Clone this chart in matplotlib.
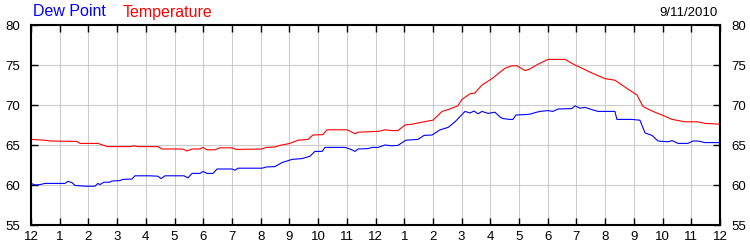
import matplotlib
matplotlib.use('Agg')
import matplotlib.pyplot as plt
import numpy as np

plt.rcParams['font.family'] = ['Liberation Sans', 'DejaVu Sans']

# hours since midnight
temp_hours = [0, 0.49, 0.66, 1.60, 1.71, 2.33, 2.58, 2.68, 3.45, 3.59, 3.73, 4.42,
              4.56, 5.29, 5.43, 5.61, 5.89, 5.99, 6.13, 6.41, 6.58, 7.00, 7.14,
              8.05, 8.19, 8.50, 8.67, 9.02, 9.30, 9.65, 9.82, 10.17, 10.31, 11.01,
              11.18, 11.29, 11.39, 12.09, 12.33, 12.57, 12.78, 13.03, 13.27, 13.55,
              13.83, 14.00, 14.32, 14.59, 14.87, 15.01, 15.29, 15.46, 15.71, 16.06,
              16.51, 16.75, 16.93, 17.21, 17.38, 17.66, 18.01, 18.60, 18.95, 19.54,
              19.99, 20.34, 20.79, 21.11, 21.32, 21.63, 21.98, 22.33, 22.78, 23.23,
              23.48, 24.0]
temperature = [65.7, 65.6, 65.5, 65.45, 65.2, 65.2, 64.9, 64.8, 64.8, 64.9, 64.8, 64.8,
               64.5, 64.5, 64.25, 64.5, 64.5, 64.7, 64.4, 64.4, 64.65, 64.65, 64.45,
               64.5, 64.7, 64.75, 64.95, 65.2, 65.6, 65.7, 66.25, 66.3, 66.9, 66.9,
               66.6, 66.4, 66.6, 66.7, 66.9, 66.8, 66.8, 67.5, 67.6, 67.8,
               68.0, 68.1, 69.2, 69.5, 69.9, 70.7, 71.4, 71.5, 72.5, 73.3,
               74.6, 74.9, 74.9, 74.3, 74.5, 75.1, 75.7, 75.7, 75.0, 74.0,
               73.3, 73.1, 72.0, 71.25, 69.8, 69.25, 68.75, 68.2, 67.9, 67.9,
               67.7, 67.6]

dew_hours = [0, 0.14, 0.31, 0.49, 1.18, 1.29, 1.43, 1.53, 1.88, 2.23, 2.33, 2.40,
             2.54, 2.75, 2.82, 3.10, 3.20, 3.52, 3.62, 4.14, 4.42, 4.53, 4.67, 5.33,
             5.47, 5.61, 5.89, 5.99, 6.13, 6.34, 6.48, 7.00, 7.11, 7.21, 8.05, 8.19,
             8.50, 8.74, 9.09, 9.44, 9.72, 9.89, 10.14, 10.24, 10.94, 11.11, 11.29,
             11.39, 11.74, 11.88, 12.09, 12.33, 12.57, 12.78, 13.06, 13.48, 13.69,
             13.97, 14.25, 14.53, 14.77, 15.12, 15.29, 15.43, 15.57, 15.71, 15.92,
             16.16, 16.34, 16.44, 16.68, 16.79, 16.89, 17.21, 17.38, 17.56, 17.73,
             18.01, 18.18, 18.36, 18.84, 18.95, 19.12, 19.30, 19.47, 19.75, 20.34,
             20.41, 20.93, 21.21, 21.39, 21.63, 21.84, 22.19, 22.33, 22.54, 22.88,
             23.06, 23.23, 23.48, 24.0]
dew_point = [60.2, 60.0, 60.05, 60.2, 60.2, 60.45, 60.3, 59.95, 59.85, 59.85, 60.2, 60.05,
             60.35, 60.35, 60.5, 60.55, 60.7, 60.75, 61.15, 61.15, 61.1, 60.8, 61.15, 61.15,
             60.9, 61.45, 61.45, 61.7, 61.45, 61.45, 62.0, 62.0, 61.85, 62.1, 62.1, 62.25,
             62.3, 62.8, 63.2, 63.3, 63.6, 64.2, 64.2, 64.7, 64.7, 64.5, 64.2,
             64.5, 64.55, 64.7, 64.7, 65.0, 64.9, 64.95, 65.6, 65.7, 66.2,
             66.25, 66.9, 67.2, 67.9, 69.2, 69.0, 69.25, 68.9, 69.2, 68.95,
             69.1, 68.5, 68.3, 68.2, 68.2, 68.75, 68.8, 68.85, 69.05, 69.2,
             69.3, 69.2, 69.5, 69.55, 69.9, 69.6, 69.7, 69.5, 69.2, 69.2,
             68.2, 68.2, 68.1, 66.5, 66.2, 65.5, 65.4, 65.55, 65.2, 65.2,
             65.5, 65.5, 65.3, 65.3]

hour_labels = ['12', '1', '2', '3', '4', '5', '6', '7', '8', '9', '10', '11'] * 2 + ['12']
y_ticks = [55, 60, 65, 70, 75, 80]

fig = plt.figure(figsize=(7.5, 2.5), dpi=100)
ax = fig.add_axes([31 / 750, 25 / 250, 689 / 750, 200 / 250])

ax.plot(dew_hours, dew_point, color='#0000ff', linewidth=0.8)
ax.plot(temp_hours, temperature, color='#ff0000', linewidth=0.8)

ax.set_xlim(0, 24)
ax.set_ylim(55, 80)
ax.set_xticks(range(25))
ax.set_xticklabels(hour_labels)
ax.set_yticks(y_ticks)
ax.grid(True, color='#cccccc', linewidth=0.8)
ax.set_axisbelow(True)
ax.tick_params(axis='both', direction='in', length=5, width=1, color='black',
               labelsize=9.5, top=True, right=True, labelright=True)
ax.tick_params(axis='y', pad=8)
ax.tick_params(axis='x', pad=4)
for s in ax.spines.values():
    s.set_linewidth(1.5)

fig.text(33 / 750, 1 - 12 / 250, 'Dew Point', color='#0000ff', fontsize=11.5, va='center')
fig.text(123 / 750, 1 - 12 / 250, 'Temperature', color='#ff0000', fontsize=11.5, va='center')
fig.text(718 / 750, 1 - 13 / 250, '9/11/2010', color='black', fontsize=9.5, va='center', ha='right')

fig.savefig('out.png', dpi=100)
